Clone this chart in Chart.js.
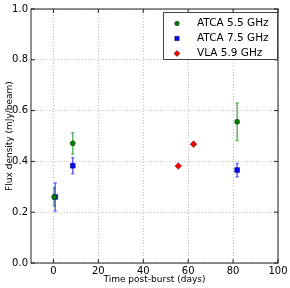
<!DOCTYPE html>
<html>
<head>
<meta charset="utf-8">
<script src="https://cdn.jsdelivr.net/npm/chart.js@4.4.1/dist/chart.umd.min.js"></script>
<style>
  html, body { margin: 0; padding: 0; background: #fff; }
  #wrap { width: 290px; height: 288px; }
</style>
</head>
<body>
<div id="wrap"><canvas id="fluxChart" width="290" height="288"></canvas></div>
<script>
// ── Data ──────────────────────────────────────────────────────────────────
const atca55Days = [0.3, 8.6, 81.8];
const atca55Flux = [0.26, 0.471, 0.556];
const atca55Err  = [0.035, 0.042, 0.074];

const atca75Days = [0.8, 8.6, 81.8];
const atca75Flux = [0.26, 0.383, 0.366];
const atca75Err  = [0.055, 0.032, 0.026];

const vlaDays = [55.6, 62.4];
const vlaFlux = [0.382, 0.468];

const xTicks = [0, 20, 40, 60, 80, 100];
const yTicks = [0.0, 0.2, 0.4, 0.6, 0.8, 1.0];

const FONT = '"DejaVu Sans", sans-serif';

function toPoints(xs, ys, errs) {
  return xs.map((x, i) => ({ x, y: ys[i], err: errs ? errs[i] : 0 }));
}

// ── Plugin: error bars, frame with inward ticks, legend box ───────────────
const decorations = {
  id: 'decorations',
  beforeDatasetsDraw(chart) {
    const { ctx, scales: { x, y } } = chart;
    ctx.save();
    chart.data.datasets.forEach(ds => {
      if (!ds.errColor) return;
      ctx.strokeStyle = ds.errColor;
      ctx.lineWidth = 1.5;
      ds.data.forEach(p => {
        if (!p.err) return;
        const px = x.getPixelForValue(p.x);
        const top = y.getPixelForValue(p.y + p.err);
        const bot = y.getPixelForValue(p.y - p.err);
        ctx.beginPath();
        ctx.moveTo(px, top); ctx.lineTo(px, bot);
        ctx.moveTo(px - 1.5, top); ctx.lineTo(px + 1.5, top);
        ctx.moveTo(px - 1.5, bot); ctx.lineTo(px + 1.5, bot);
        ctx.stroke();
      });
    });
    ctx.restore();
  },
  afterDraw(chart) {
    const { ctx, chartArea: a, scales: { x, y } } = chart;
    ctx.save();

    // frame
    ctx.strokeStyle = '#222';
    ctx.lineWidth = 1;
    ctx.strokeRect(a.left, a.top, a.right - a.left, a.bottom - a.top);

    // inward ticks on all four sides
    ctx.beginPath();
    xTicks.forEach(v => {
      const px = x.getPixelForValue(v);
      ctx.moveTo(px, a.bottom); ctx.lineTo(px, a.bottom - 4);
      ctx.moveTo(px, a.top);    ctx.lineTo(px, a.top + 4);
    });
    yTicks.forEach(v => {
      const py = y.getPixelForValue(v);
      ctx.moveTo(a.left, py);  ctx.lineTo(a.left + 4, py);
      ctx.moveTo(a.right, py); ctx.lineTo(a.right - 4, py);
    });
    ctx.stroke();

    // legend
    const bx = 163, by = 12, bw = 114, bh = 47;
    ctx.fillStyle = '#fff';
    ctx.fillRect(bx, by, bw, bh);
    ctx.strokeStyle = '#444';
    ctx.strokeRect(bx + 0.5, by + 0.5, bw, bh);
    ctx.font = '10.5px ' + FONT;
    ctx.textBaseline = 'middle';
    chart.data.datasets.forEach((ds, i) => {
      const ry = 23.5 + i * 15;
      ctx.fillStyle = ds.backgroundColor;
      ctx.strokeStyle = '#000';
      ctx.lineWidth = 0.5;
      Chart.helpers.drawPoint(ctx, {
        pointStyle: ds.pointStyle,
        radius: ds.pointRadius * 0.9,
        borderWidth: 0.5,
        rotation: 0
      }, 177, ry);
      ctx.fillStyle = '#000';
      ctx.fillText(ds.label, 197, ry);
    });
    ctx.restore();
  }
};

// ── Chart ──────────────────────────────────────────────────────────────────
new Chart(document.getElementById('fluxChart'), {
  type: 'scatter',
  data: {
    datasets: [
      {
        label: 'ATCA 5.5 GHz',
        data: toPoints(atca55Days, atca55Flux, atca55Err),
        pointStyle: 'circle',
        pointRadius: 2.5,
        backgroundColor: '#008000',
        borderColor: '#003000',
        borderWidth: 0.5,
        errColor: 'rgba(0,128,0,0.6)',
        order: 1
      },
      {
        label: 'ATCA 7.5 GHz',
        data: toPoints(atca75Days, atca75Flux, atca75Err),
        pointStyle: 'rect',
        pointRadius: 3.4,
        backgroundColor: '#0000ff',
        borderColor: '#000050',
        borderWidth: 0.5,
        errColor: 'rgba(0,0,255,0.6)',
        order: 2
      },
      {
        label: 'VLA 5.9 GHz',
        data: toPoints(vlaDays, vlaFlux, null),
        pointStyle: 'rectRot',
        pointRadius: 3.3,
        backgroundColor: '#ff0000',
        borderColor: '#600000',
        borderWidth: 0.5,
        order: 3
      }
    ]
  },
  options: {
    responsive: false,
    animation: false,
    layout: { padding: { top: 7, right: 12, left: 0, bottom: 0 } },
    plugins: {
      legend: { display: false },
      tooltip: { enabled: false }
    },
    scales: {
      x: {
        type: 'linear',
        min: -10,
        max: 100,
        afterBuildTicks: s => { s.ticks = xTicks.map(v => ({ value: v })); },
        afterFit: s => { s.height = 25; },
        grid: { color: '#b0b0b0', lineWidth: 0.8, drawTicks: false },
        border: { display: false, dash: [1, 2] },
        ticks: {
          padding: 2,
          color: '#000',
          font: { family: FONT, size: 10 },
          callback: v => String(v)
        },
        title: {
          display: true,
          text: 'Time post-burst (days)',
          color: '#000',
          font: { family: FONT, size: 9 },
          padding: { top: 0, bottom: 3 }
        }
      },
      y: {
        type: 'linear',
        min: 0,
        max: 1,
        afterBuildTicks: s => { s.ticks = yTicks.map(v => ({ value: v })); },
        afterFit: s => { s.width = 31; },
        grid: { color: '#b0b0b0', lineWidth: 0.8, drawTicks: false },
        border: { display: false, dash: [1, 2] },
        ticks: {
          padding: 3,
          color: '#000',
          font: { family: FONT, size: 10 },
          callback: v => Number(v).toFixed(1)
        },
        title: {
          display: true,
          text: 'Flux density (mJy/beam)',
          color: '#000',
          font: { family: FONT, size: 9 },
          padding: { top: 4, bottom: 0 }
        }
      }
    }
  },
  plugins: [decorations]
});
</script>
</body>
</html>
